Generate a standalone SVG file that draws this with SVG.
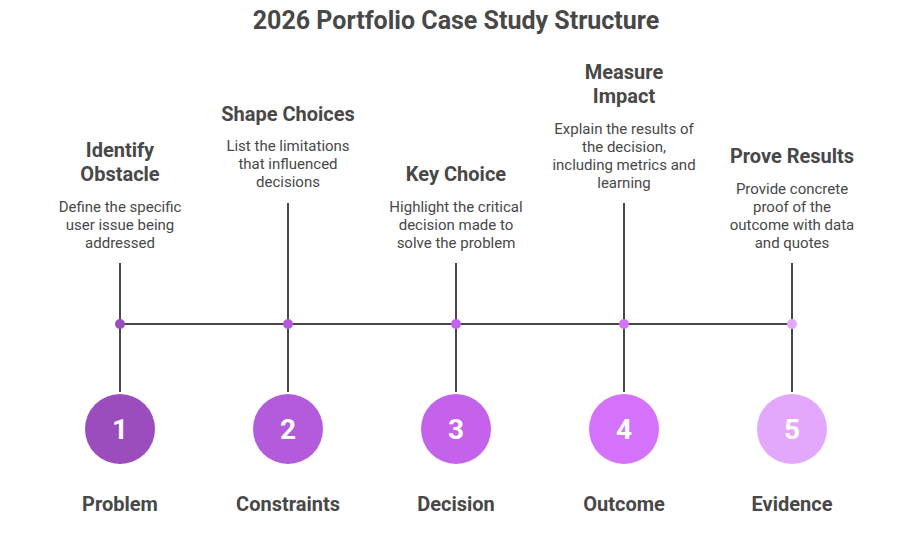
<svg xmlns="http://www.w3.org/2000/svg" width="912" height="533" viewBox="0 0 912 533">
<style>
text{font-family:Roboto,"Liberation Sans",sans-serif;fill:#484848;text-anchor:middle}
.t{font-size:25px;font-weight:700}
.h{font-size:20px;font-weight:700}
.d{font-size:15px}
.n{font-size:28px;font-weight:700;fill:#fff}
.ln{stroke:#484848;stroke-width:2;fill:none}
</style>
<rect width="912" height="533" fill="#fff"/>
<text class="t" x="456" y="29">2026 Portfolio Case Study Structure</text>
<g id="connectors">
<path class="ln" d="M120 324H792"/>
<path class="ln" d="M120 263V392M288 203V392M456 263V392M624 203V392M792 263V392"/>
<circle cx="120" cy="324" r="5" fill="#9c4dbd"/>
<circle cx="288" cy="324" r="5" fill="#b35bdb"/>
<circle cx="456" cy="324" r="5" fill="#c462ec"/>
<circle cx="624" cy="324" r="5" fill="#d472fb"/>
<circle cx="792" cy="324" r="5" fill="#e3a8fc"/>
</g>
<g id="node1">
<text class="h" x="120" y="157">Identify</text>
<text class="h" x="120" y="181">Obstacle</text>
<text class="d" x="120" y="212">Define the specific</text>
<text class="d" x="120" y="230">user issue being</text>
<text class="d" x="120" y="248">addressed</text>
<circle cx="120" cy="429" r="35" fill="#9c4dbd"/>
<text class="n" x="120" y="439">1</text>
<text class="h" x="120" y="511">Problem</text>
</g>
<g id="node2">
<text class="h" x="288" y="121">Shape Choices</text>
<text class="d" x="288" y="151">List the limitations</text>
<text class="d" x="288" y="169">that influenced</text>
<text class="d" x="288" y="187">decisions</text>
<circle cx="288" cy="429" r="35" fill="#b35bdb"/>
<text class="n" x="288" y="439">2</text>
<text class="h" x="288" y="511">Constraints</text>
</g>
<g id="node3">
<text class="h" x="456" y="181">Key Choice</text>
<text class="d" x="456" y="212">Highlight the critical</text>
<text class="d" x="456" y="230">decision made to</text>
<text class="d" x="456" y="248">solve the problem</text>
<circle cx="456" cy="429" r="35" fill="#c462ec"/>
<text class="n" x="456" y="439">3</text>
<text class="h" x="456" y="511">Decision</text>
</g>
<g id="node4">
<text class="h" x="624" y="79">Measure</text>
<text class="h" x="624" y="103">Impact</text>
<text class="d" x="624" y="134">Explain the results of</text>
<text class="d" x="624" y="152">the decision,</text>
<text class="d" x="624" y="170">including metrics and</text>
<text class="d" x="624" y="188">learning</text>
<circle cx="624" cy="429" r="35" fill="#d472fb"/>
<text class="n" x="624" y="439">4</text>
<text class="h" x="624" y="511">Outcome</text>
</g>
<g id="node5">
<text class="h" x="792" y="163">Prove Results</text>
<text class="d" x="792" y="194">Provide concrete</text>
<text class="d" x="792" y="212">proof of the</text>
<text class="d" x="792" y="230">outcome with data</text>
<text class="d" x="792" y="248">and quotes</text>
<circle cx="792" cy="429" r="35" fill="#e3a8fc"/>
<text class="n" x="792" y="439">5</text>
<text class="h" x="792" y="511">Evidence</text>
</g>
</svg>
